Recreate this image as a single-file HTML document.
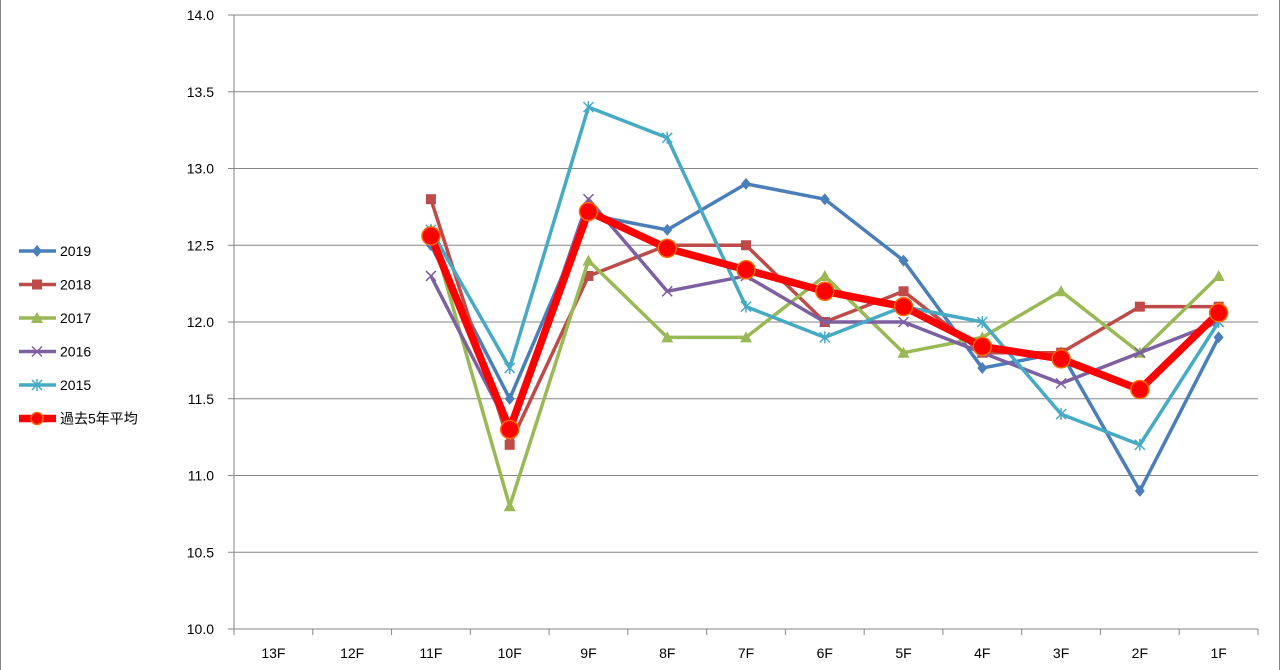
<!DOCTYPE html><html><head><meta charset="utf-8"><style>body{margin:0;background:#fff}svg{display:block}text{font-family:"Liberation Sans","Noto Sans CJK JP",sans-serif;font-size:14px;fill:#000}</style></head><body>
<svg id="s" width="1280" height="670" xmlns="http://www.w3.org/2000/svg"></svg>
<script>
const s=document.getElementById('s');let h='';
const Y=v=>15+(14-v)*153.5, X=i=>234+78.77*(i+0.5);
h+='<rect x="0.5" y="-1" width="1279" height="672" fill="none" stroke="#868686"/>';
for(let k=0;k<=8;k++){const v=10+k*0.5,y=Y(v);h+=`<line x1="228" x2="1258" y1="${y}" y2="${y}" stroke="#868686" stroke-width="1"/><text x="214" y="${y+5}" text-anchor="end">${v.toFixed(1)}</text>`;}
h+='<line x1="234" x2="234" y1="15" y2="629" stroke="#868686"/>';
const cats=['13F','12F','11F','10F','9F','8F','7F','6F','5F','4F','3F','2F','1F'];
for(let i=0;i<=13;i++){const x=234+78.77*i;h+=`<line x1="${x}" x2="${x}" y1="629" y2="635" stroke="#868686"/>`;}
cats.forEach((c,i)=>h+=`<text x="${X(i)}" y="658" text-anchor="middle">${c}</text>`);
const S=[
['2019','#4A7EBB','d',[12.5,11.5,12.7,12.6,12.9,12.8,12.4,11.7,11.8,10.9,11.9]],
['2018','#BE4B48','s',[12.8,11.2,12.3,12.5,12.5,12.0,12.2,11.8,11.8,12.1,12.1]],
['2017','#98B954','t',[12.6,10.8,12.4,11.9,11.9,12.3,11.8,11.9,12.2,11.8,12.3]],
['2016','#7D60A0','x',[12.3,11.3,12.8,12.2,12.3,12.0,12.0,11.8,11.6,11.8,12.0]],
['2015','#46AAC5','a',[12.6,11.7,13.4,13.2,12.1,11.9,12.1,12.0,11.4,11.2,12.0]],
['過去5年平均','#FF0000','o',[12.56,11.3,12.72,12.48,12.34,12.2,12.1,11.84,11.76,11.56,12.06]]];
function mk(t,c,x,y){
 if(t=='d')return `<polygon points="${x},${y-6} ${x+5},${y} ${x},${y+6} ${x-5},${y}" fill="${c}"/>`;
 if(t=='s')return `<rect x="${x-5}" y="${y-5}" width="10" height="10" fill="${c}"/>`;
 if(t=='t')return `<polygon points="${x},${y-6} ${x+6},${y+5} ${x-6},${y+5}" fill="${c}"/>`;
 if(t=='x')return `<path d="M${x-5} ${y-5}L${x+5} ${y+5}M${x+5} ${y-5}L${x-5} ${y+5}" stroke="${c}" stroke-width="1.5"/>`;
 if(t=='a')return `<path d="M${x-5} ${y-5}L${x+5} ${y+5}M${x+5} ${y-5}L${x-5} ${y+5}M${x} ${y-6}V${y+6}" stroke="${c}" stroke-width="1.5"/>`;
 return `<circle cx="${x}" cy="${y}" r="9" fill="#FF0000" stroke="#FF6A00" stroke-width="1.5"/>`;}
S.forEach((r,j)=>{const w=r[2]=='o'?7.5:3.5;
 h+=`<polyline fill="none" stroke="${r[1]}" stroke-width="${w}" stroke-linejoin="round" points="${r[3].map((v,i)=>X(i+2)+','+Y(v)).join(' ')}"/>`;
 r[3].forEach((v,i)=>h+=mk(r[2],r[1],X(i+2),Y(v)));
 const ly=251+j*33.5;h+=`<line x1="19" x2="56" y1="${ly}" y2="${ly}" stroke="${r[1]}" stroke-width="${w}"/>`+mk(r[2],r[1],37,ly).replace('r="9"','r="6"')+`<text x="60" y="${ly+5}">${r[0]}</text>`;});
s.innerHTML=h;
</script></body></html>
